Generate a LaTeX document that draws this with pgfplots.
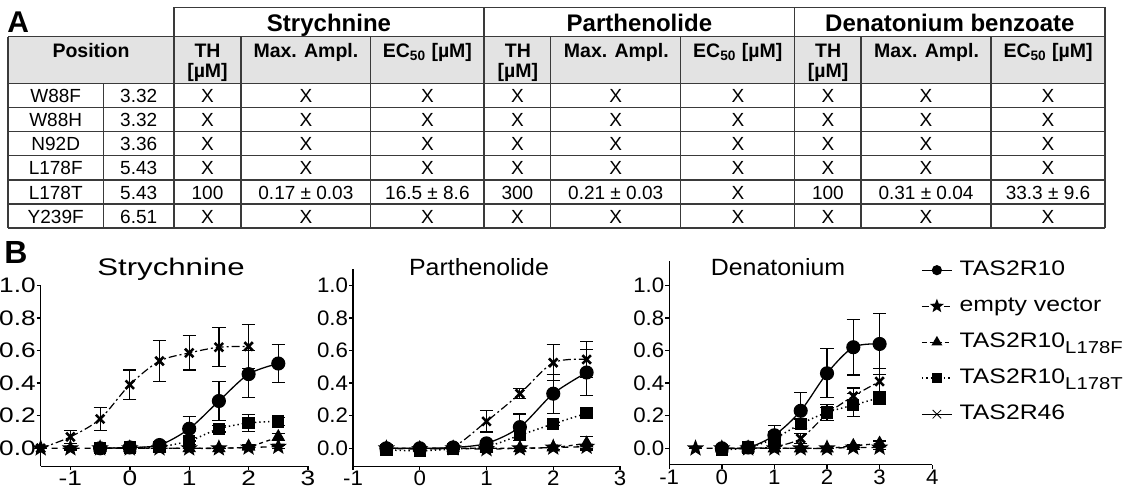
\documentclass[border=0pt]{standalone}
\usepackage{fontspec}
\setmainfont{Liberation Sans}
\newfontfamily\Bfam[FakeStretch=1.06]{Liberation Sans}
\newfontfamily\BfamA[FakeStretch=1.25]{Liberation Sans}
\newfontfamily\TfamA[FakeStretch=1.3]{Liberation Sans}
\newfontfamily\Lfam[FakeStretch=1.18]{Liberation Sans}
\usepackage{pgfplots}
\pgfplotsset{compat=1.18}
\definecolor{tabline}{HTML}{3A3A3A}
\definecolor{hdrgray}{HTML}{E3E3E3}
\newcommand{\Bf}{\Bfam\fontsize{10.5pt}{12pt}\selectfont}
\newcommand{\Bfa}{\BfamA\fontsize{10.5pt}{12pt}\selectfont}
\newcommand{\Tf}{\Bfam\fontsize{11.75pt}{13pt}\selectfont}
\newcommand{\Tfa}{\TfamA\fontsize{12pt}{13pt}\selectfont}
\newcommand{\Lf}{\Lfam\fontsize{10.5pt}{12pt}\selectfont}
\newcommand{\Lsub}[1]{\raisebox{-0.28em}{\fontsize{8.6pt}{9pt}\selectfont #1}}

\pgfdeclareplotmark{fstar}{%
  \pgfpathmoveto{\pgfqpointpolar{90}{\pgfplotmarksize}}%
  \pgfpathlineto{\pgfqpointpolar{126}{0.42\pgfplotmarksize}}%
  \pgfpathlineto{\pgfqpointpolar{162}{\pgfplotmarksize}}%
  \pgfpathlineto{\pgfqpointpolar{198}{0.42\pgfplotmarksize}}%
  \pgfpathlineto{\pgfqpointpolar{234}{\pgfplotmarksize}}%
  \pgfpathlineto{\pgfqpointpolar{270}{0.42\pgfplotmarksize}}%
  \pgfpathlineto{\pgfqpointpolar{306}{\pgfplotmarksize}}%
  \pgfpathlineto{\pgfqpointpolar{342}{0.42\pgfplotmarksize}}%
  \pgfpathlineto{\pgfqpointpolar{18}{\pgfplotmarksize}}%
  \pgfpathlineto{\pgfqpointpolar{54}{0.42\pgfplotmarksize}}%
  \pgfpathclose
  \pgfusepathqfillstroke
}

\pgfplotsset{
  Bax/.style={
    scale only axis, clip=false,
    axis lines=left, axis line style={-, line width=0.7pt},
    every tick/.style={black, line width=0.7pt},
    tick align=outside, major tick length=2pt,
    ytick={0,0.2,0.4,0.6,0.8,1},
    yticklabel style={/pgf/number format/fixed, /pgf/number format/fixed zerofill, /pgf/number format/precision=1},
    tick label style={font=\Bf},
    xticklabel style={inner ysep=0.3pt},
    yticklabel style={inner xsep=0.3pt},
    /pgf/number format/assume math mode=true,
    legend image code/.code={\draw[mark repeat=2,mark phase=2,##1] plot coordinates {(0pt,0pt) (7.5pt,0pt) (15pt,0pt)};},
  },
  eb/.style={error bars/y dir=both, error bars/y explicit,
    error bars/error bar style={line width=0.6pt, solid, black},
    error bars/error mark options={rotate=90, mark size=3.3pt, line width=0.6pt, solid, black}},
  s10/.style={black, line width=0.65pt, smooth, mark=*, mark size=3.2pt, mark options={solid}},
  sEV/.style={black, line width=0.65pt, smooth, dash pattern=on 3pt off 2.5pt, mark=fstar, mark size=3.6pt, mark options={solid, fill=black}},
  sLF/.style={black, line width=0.65pt, smooth, dash pattern=on 2pt off 1.8pt, mark=triangle*, mark size=3.3pt, mark options={solid}},
  sLT/.style={black, line width=0.75pt, smooth, dash pattern=on 0.7pt off 1.5pt, mark=square*, mark size=2.7pt, mark options={solid}},
  s46/.style={black, line width=0.6pt, smooth, dash pattern=on 4pt off 1.5pt on 1pt off 1.5pt, mark=x, mark size=3pt, mark options={solid, line width=1.3pt}},
}

\begin{document}
\begin{tikzpicture}
\useasboundingbox (0,0) rectangle (564pt,-244.5pt);
\begin{scope}[x=0.5pt,y=-0.5pt]
  % ---------- table ----------
  \fill[hdrgray] (8,36.7) rectangle (1105,83.3);
  \begin{scope}[tabline, line width=0.75pt]
    \draw (174,7.3) -- (1105,7.3);
    \draw (8,36.7) -- (1105,36.7);
    \draw (8,83.3) -- (1105,83.3);
    \foreach \k in {1,...,5} {\draw (8,83.3+24.12*\k) -- (1105,83.3+24.12*\k);}
    \draw (8,228) -- (1105,228);
    \draw (8,36.7) -- (8,228);
    \draw (103.3,83.3) -- (103.3,228);
    \foreach \xx in {174,484,794.7,1105} {\draw (\xx,7.3) -- (\xx,228);}
    \foreach \xx in {241,370.7,550.7,680.7,861,991} {\draw (\xx,36.7) -- (\xx,228);}
  \end{scope}
  \node[anchor=base west, inner sep=0pt, font=\bfseries\fontsize{15pt}{16pt}\selectfont] at (7,32) {A};
  \begin{scope}[every node/.style={anchor=base, inner sep=0pt, font=\bfseries\fontsize{12pt}{14pt}\selectfont}]
    \node at (329,31) {Strychnine};
    \node at (639.4,31) {Parthenolide};
    \node at (949.9,31) {Denatonium benzoate};
  \end{scope}
  \begin{scope}[every node/.style={anchor=base, inner sep=0pt, font=\bfseries\fontsize{9.75pt}{11pt}\selectfont}]
    \node at (91,57.3) {Position};
    \foreach \cx in {0,310.4,620.7} {
      \node at (207.5+\cx,57.3) {TH};
      \node at (207.5+\cx,77.5) {[µM]};
      \node at (305.9+\cx,57.3) {Max. Ampl.};
      \node at (427.4+\cx,57.3) {EC\textsubscript{50} [µM]};
    }
  \end{scope}
  \begin{scope}[every node/.style={anchor=base, inner sep=0pt, font=\fontsize{9.5pt}{11pt}\selectfont}]
  \foreach \va/\vb/\vc/\vd/\ve/\vf/\vg/\vh/\vi/\vj/\vk [count=\k from 0] in {
    W88F/3.32/X/X/X/X/X/X/X/X/X,
    W88H/3.32/X/X/X/X/X/X/X/X/X,
    N92D/3.36/X/X/X/X/X/X/X/X/X,
    L178F/5.43/X/X/X/X/X/X/X/X/X,
    L178T/5.43/100/0.17 ± 0.03/16.5 ± 8.6/300/0.21 ± 0.03/X/100/0.31 ± 0.04/33.3 ± 9.6,
    Y239F/6.51/X/X/X/X/X/X/X/X/X}{
    \pgfmathsetmacro\yb{83.3+24.12*\k+19.3}
    \node at (55.7,\yb) {\va};
    \node at (138.7,\yb) {\vb};
    \node at (207.5,\yb) {\vc};
    \node at (305.9,\yb) {\vd};
    \node at (427.4,\yb) {\ve};
    \node at (517.4,\yb) {\vf};
    \node at (615.7,\yb) {\vg};
    \node at (737.9,\yb) {\vh};
    \node at (827.9,\yb) {\vi};
    \node at (926,\yb) {\vj};
    \node at (1048,\yb) {\vk};
  }
  \end{scope}
  % ---------- panel B labels ----------
  \node[anchor=base west, inner sep=0pt, font=\bfseries\fontsize{16pt}{17pt}\selectfont] at (4,263) {B};
  \node[anchor=base, inner sep=0pt, font=\Tfa] at (171,275) {Strychnine};
  \node[anchor=base, inner sep=0pt, font=\Tf] at (479,275) {Parthenolide};
  \node[anchor=base, inner sep=0pt, font=\Tf] at (778,275) {Denatonium};
\end{scope}

% ---------- Strychnine ----------
\begin{axis}[Bax, at={(20.35pt,-233.1pt)}, anchor=south west,
  width=133.65pt, height=90.47pt, tick label style={font=\Bfa},
  xmin=-1.5, xmax=3, ymin=-0.11, ymax=1.0, xtick={-1,0,1,2,3}]
\addplot[sEV, eb] coordinates {(-1.5,0)+-(0,0) (-1,0)+-(0,0.01) (-0.5,0)+-(0,0) (0,0)+-(0,0) (0.5,0)+-(0,0) (1,0)+-(0,0) (1.5,0)+-(0,0) (2,0.005)+-(0,0.01) (2.5,0.01)+-(0,0.01)};
\addplot[sLF, eb] coordinates {(-0.5,0)+-(0,0) (0,0)+-(0,0) (0.5,0)+-(0,0) (1,0)+-(0,0) (1.5,0)+-(0,0) (2,0.01)+-(0,0.01) (2.5,0.07)+-(0,0.02)};
\addplot[sLT, eb] coordinates {(-0.5,0)+-(0,0) (0,0.005)+-(0,0) (0.5,0.01)+-(0,0.01) (1,0.045)+-(0,0.02) (1.5,0.12)+-(0,0.02) (2,0.155)+-(0,0.05) (2.5,0.165)+-(0,0.025)};
\addplot[s10, eb] coordinates {(-0.5,0)+-(0,0.005) (0,0.005)+-(0,0.005) (0.5,0.02)+-(0,0.02) (1,0.12)+-(0,0.075) (1.5,0.29)+-(0,0.12) (2,0.455)+-(0,0.145) (2.5,0.52)+-(0,0.115)};
\addplot[s46, eb] coordinates {(-1.5,0)+-(0,0) (-1,0.07)+-(0,0.04) (-0.5,0.18)+-(0,0.07) (0,0.39)+-(0,0.09) (0.5,0.535)+-(0,0.125) (1,0.585)+-(0,0.105) (1.5,0.62)+-(0,0.12) (2,0.625)+-(0,0.135)};
\end{axis}

% ---------- Parthenolide ----------
\begin{axis}[Bax, at={(176.5pt,-233.1pt)}, anchor=south west,
  width=133.5pt, height=98.6pt,
  xmin=-1, xmax=3, ymin=-0.11, ymax=1.1, xtick={-1,0,1,2,3}]
\addplot[sEV, eb] coordinates {(-0.5,0)+-(0,0) (0,-0.005)+-(0,0) (0.5,0)+-(0,0) (1,-0.005)+-(0,0) (1.5,0)+-(0,0) (2,0.005)+-(0,0.01) (2.5,0.01)+-(0,0.01)};
\addplot[sLF, eb] coordinates {(-0.5,0)+-(0,0) (0,0)+-(0,0) (0.5,0)+-(0,0) (1,0)+-(0,0) (1.5,0)+-(0,0) (2,0.005)+-(0,0.01) (2.5,0.03)+-(0,0.04)};
\addplot[sLT, eb] coordinates {(-0.5,-0.01)+-(0,0) (0,-0.015)+-(0,0) (0.5,-0.005)+-(0,0) (1,0.01)+-(0,0.01) (1.5,0.08)+-(0,0.03) (2,0.15)+-(0,0.01) (2.5,0.215)+-(0,0.01)};
\addplot[s10, eb] coordinates {(-0.5,0)+-(0,0.01) (0,0)+-(0,0.01) (0.5,0.005)+-(0,0.01) (1,0.03)+-(0,0.02) (1.5,0.13)+-(0,0.08) (2,0.335)+-(0,0.12) (2.5,0.465)+-(0,0.14)};
\addplot[s46, eb] coordinates {(-0.5,0)+-(0,0) (0,0)+-(0,0) (0.5,0.01)+-(0,0) (1,0.165)+-(0,0.065) (1.5,0.335)+-(0,0.03) (2,0.525)+-(0,0.11) (2.5,0.545)+-(0,0.11)};
\end{axis}

% ---------- Denatonium ----------
\begin{axis}[Bax, at={(334.6pt,-232.3pt)}, anchor=south west,
  width=131.5pt, height=101.9pt,
  xmin=-1, xmax=4, ymin=-0.1, ymax=1.15, xtick={-1,0,1,2,3,4},
  legend cell align=left,
  legend style={at={(axis description cs:0.958,1.008)}, anchor=north west,
    draw=none, fill=none, inner sep=0pt, outer sep=0pt, row sep=7pt,
    font=\Lf, nodes={inner sep=0pt, text height=8pt, text depth=3pt},
    /tikz/every odd column/.append style={column sep=3.5pt}}]
\addlegendimage{s10, mark size=2.2pt}\addlegendentry{TAS2R10}
\addlegendimage{sEV, mark size=2.8pt}\addlegendentry{empty vector}
\addlegendimage{sLF, mark size=2.5pt}\addlegendentry{TAS2R10\Lsub{L178F}}
\addlegendimage{sLT, mark size=2.1pt}\addlegendentry{TAS2R10\Lsub{L178T}}
\addlegendimage{black, line width=0.4pt, mark=x, mark size=3pt, mark options={solid, line width=0.4pt}}\addlegendentry{TAS2R46}
\addplot[forget plot, sEV, eb] coordinates {(-0.5,0)+-(0,0) (0,0)+-(0,0) (0.5,0)+-(0,0) (1,0)+-(0,0) (1.5,0)+-(0,0) (2,0)+-(0,0) (2.5,0.005)+-(0,0.01) (3,0.005)+-(0,0.01)};
\addplot[forget plot, sLF, eb] coordinates {(0,0)+-(0,0) (0.5,0)+-(0,0) (1,0)+-(0,0) (1.5,0)+-(0,0) (2,0)+-(0,0) (2.5,0.015)+-(0,0.01) (3,0.03)+-(0,0.015)};
\addplot[forget plot, sLT, eb] coordinates {(0,-0.01)+-(0,0) (0.5,0.005)+-(0,0) (1,0.06)+-(0,0.04) (1.5,0.15)+-(0,0.03) (2,0.22)+-(0,0.05) (2.5,0.265)+-(0,0.07) (3,0.31)+-(0,0.04)};
\addplot[forget plot, s10, eb] coordinates {(0,0)+-(0,0.01) (0.5,0.005)+-(0,0.01) (1,0.08)+-(0,0.06) (1.5,0.23)+-(0,0.11) (2,0.46)+-(0,0.15) (2.5,0.62)+-(0,0.17) (3,0.64)+-(0,0.185)};
\addplot[forget plot, s46, eb] coordinates {(0,0)+-(0,0) (0.5,0)+-(0,0) (1,0.01)+-(0,0) (1.5,0.06)+-(0,0.03) (2,0.21)+-(0,0.04) (2.5,0.32)+-(0,0.05) (3,0.41)+-(0,0.08)};
\end{axis}
\end{tikzpicture}
\end{document}
